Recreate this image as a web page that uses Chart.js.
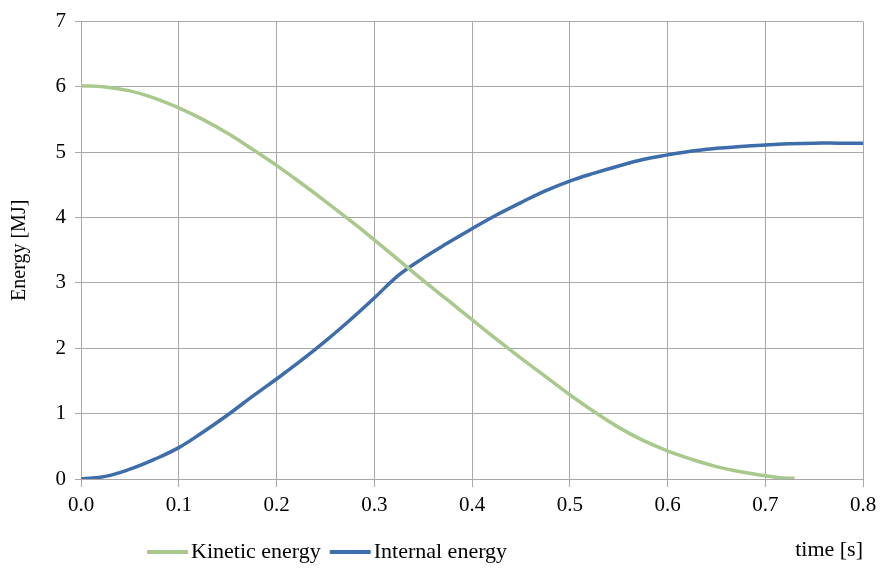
<!DOCTYPE html>
<html lang="en">
<head>
    <meta charset="UTF-8">
    <title>Energy vs time</title>
    <script src="https://cdn.jsdelivr.net/npm/chart.js@4.4.1/dist/chart.umd.min.js"></script>
    <style>
        html, body { margin: 0; padding: 0; background: #fff; }
        #wrap { width: 890px; height: 568px; }
    </style>
</head>
<body>
    <div id="wrap"><canvas id="energyChart" width="890" height="568"></canvas></div>
    <script>
        // time [s]
        const kineticTime = [0, 0.025, 0.05, 0.075, 0.1, 0.125, 0.15, 0.175, 0.2, 0.225, 0.25, 0.275, 0.3, 0.325, 0.35, 0.375, 0.4, 0.425, 0.45, 0.475, 0.5, 0.525, 0.55, 0.575, 0.6, 0.625, 0.65, 0.675, 0.7, 0.715, 0.73];
        // energy [MJ]
        const kineticEnergy = [6.02, 6.0, 5.94, 5.83, 5.68, 5.5, 5.29, 5.05, 4.8, 4.53, 4.25, 3.96, 3.66, 3.35, 3.04, 2.74, 2.44, 2.14, 1.85, 1.57, 1.29, 1.03, 0.79, 0.59, 0.43, 0.3, 0.19, 0.11, 0.05, 0.02, 0.01];

        const internalTime = [0, 0.025, 0.05, 0.075, 0.1, 0.125, 0.15, 0.175, 0.2, 0.225, 0.25, 0.275, 0.3, 0.325, 0.35, 0.375, 0.4, 0.425, 0.45, 0.475, 0.5, 0.525, 0.55, 0.575, 0.6, 0.625, 0.65, 0.675, 0.7, 0.725, 0.75, 0.775, 0.8];
        const internalEnergy = [0.0, 0.04, 0.15, 0.3, 0.48, 0.72, 0.98, 1.26, 1.53, 1.81, 2.11, 2.43, 2.77, 3.12, 3.38, 3.61, 3.83, 4.04, 4.23, 4.41, 4.56, 4.68, 4.79, 4.89, 4.96, 5.02, 5.06, 5.09, 5.11, 5.13, 5.14, 5.14, 5.14];

        const seriesNames = ['Kinetic energy', 'Internal energy'];
        const xTitle = 'time [s]';
        const yTitle = 'Energy [MJ]';

        const toPoints = (xs, ys) => xs.map((x, i) => ({ x: x, y: ys[i] }));

        const serif = '"Liberation Serif", "DejaVu Serif", serif';
        const gridColor = '#a8a8a8';

        // legend row under the plot plus the x axis title at its right end
        const bottomRow = {
            id: 'bottomRow',
            afterDraw(chart) {
                const ctx = chart.ctx;
                const rowY = 552;
                ctx.save();
                ctx.font = '22px ' + serif;
                ctx.textBaseline = 'middle';
                let x = 147;
                chart.data.datasets.forEach(ds => {
                    ctx.strokeStyle = ds.borderColor;
                    ctx.lineWidth = 4;
                    ctx.beginPath();
                    ctx.moveTo(x, rowY);
                    ctx.lineTo(x + 41, rowY);
                    ctx.stroke();
                    x += 44;
                    ctx.fillStyle = '#000';
                    ctx.textAlign = 'left';
                    ctx.fillText(ds.label, x, rowY);
                    x += ctx.measureText(ds.label).width + 9;
                });
                ctx.textAlign = 'right';
                ctx.fillText(xTitle, chart.scales.x.right, rowY - 2);
                ctx.restore();
            }
        };

        new Chart(document.getElementById('energyChart').getContext('2d'), {
            type: 'scatter',
            data: {
                datasets: [{
                    label: seriesNames[0],
                    data: toPoints(kineticTime, kineticEnergy),
                    showLine: true,
                    borderColor: '#a9c88c',
                    backgroundColor: '#a9c88c',
                    borderWidth: 3.5,
                    pointRadius: 0,
                    tension: 0.4
                }, {
                    label: seriesNames[1],
                    data: toPoints(internalTime, internalEnergy),
                    showLine: true,
                    borderColor: '#3e6dab',
                    backgroundColor: '#3e6dab',
                    borderWidth: 3.5,
                    pointRadius: 0,
                    tension: 0.4
                }]
            },
            options: {
                responsive: false,
                animation: false,
                layout: { padding: { top: 21, right: 27, left: 8, bottom: 39 } },
                plugins: {
                    tooltip: { enabled: false },
                    legend: { display: false }
                },
                scales: {
                    x: {
                        type: 'linear',
                        min: 0,
                        max: 0.8,
                        ticks: {
                            stepSize: 0.1,
                            color: '#000',
                            font: { family: serif, size: 21 },
                            callback: v => v.toFixed(1),
                            padding: 6,
                            maxRotation: 0
                        },
                        grid: { color: gridColor, tickLength: 8, lineWidth: 1 },
                        border: { color: gridColor },
                        afterFit: scale => { scale.height = 50; }
                    },
                    y: {
                        min: 0,
                        max: 7,
                        ticks: {
                            stepSize: 1,
                            color: '#000',
                            font: { family: serif, size: 21 },
                            padding: 9
                        },
                        grid: { color: gridColor, tickLength: 6, lineWidth: 1 },
                        border: { color: gridColor },
                        title: {
                            display: true,
                            text: yTitle,
                            color: '#000',
                            font: { family: serif, size: 20 },
                            padding: 0
                        },
                        afterFit: scale => { scale.width = 73; }
                    }
                }
            },
            plugins: [bottomRow]
        });
    </script>
</body>
</html>
